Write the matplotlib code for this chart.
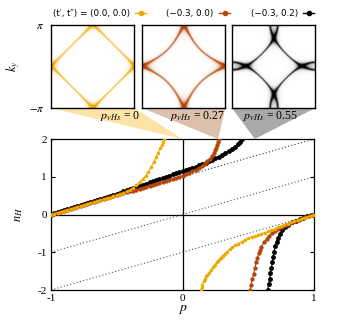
import numpy as np
import matplotlib
matplotlib.use("Agg")
import matplotlib.pyplot as plt
from matplotlib.colors import LinearSegmentedColormap
from matplotlib.patches import Polygon
from matplotlib.lines import Line2D

plt.rcParams['font.family'] = ['Liberation Serif', 'DejaVu Serif']
plt.rcParams['mathtext.fontset'] = 'stix'
plt.rcParams['axes.unicode_minus'] = False

# hopping parameters (t', t''), chemical potential at the vHs, vHs dopings
hoppings = [(0.0, 0.0), (-0.3, 0.0), (-0.3, 0.2)]
mu_vhs = [0.0, -1.2, -1.8]
legend_labels = ["(t\u2032, t\u2033) = (0.0, 0.0)", "(\u22120.3, 0.0)", "(\u22120.3, 0.2)"]
p_vhs = [0.0, 0.27, 0.55]
p_vhs_labels = ["0", "0.27", "0.55"]

# Hall number, upper branches
p_yel_up = [-1.0, -0.975, -0.95, -0.925, -0.9, -0.875, -0.85, -0.825, -0.8, -0.775, -0.75, -0.725,
            -0.7, -0.675, -0.65, -0.625, -0.6, -0.575, -0.55, -0.525, -0.5, -0.475, -0.45, -0.425,
            -0.4, -0.375, -0.35, -0.325, -0.3, -0.28, -0.26, -0.24, -0.22, -0.2, -0.185, -0.17,
            -0.158, -0.147, -0.137]
nH_yel_up = [0.0, 0.025, 0.05, 0.075, 0.1, 0.125, 0.15, 0.175, 0.2, 0.225, 0.25, 0.275,
             0.3, 0.325, 0.35, 0.375, 0.4, 0.425, 0.45, 0.48, 0.51, 0.54, 0.57, 0.61,
             0.66, 0.71, 0.78, 0.86, 0.95, 1.03, 1.13, 1.25, 1.38, 1.53, 1.64, 1.75,
             1.84, 1.92, 2.0]

p_brn_up = [-1.0, -0.975, -0.95, -0.925, -0.9, -0.875, -0.85, -0.825, -0.8, -0.775, -0.75, -0.725,
            -0.7, -0.675, -0.65, -0.625, -0.6, -0.575, -0.55, -0.525, -0.5, -0.475, -0.45, -0.425,
            -0.4, -0.375, -0.35, -0.325, -0.3, -0.275, -0.25, -0.225, -0.2, -0.175, -0.15, -0.125,
            -0.1, -0.075, -0.05, -0.025, 0.0, 0.025, 0.05, 0.075, 0.1, 0.125, 0.15, 0.17,
            0.19, 0.21, 0.225, 0.24, 0.25, 0.258, 0.265, 0.271, 0.276]
nH_brn_up = [0.0, 0.025, 0.05, 0.075, 0.1, 0.13, 0.155, 0.18, 0.205, 0.23, 0.255, 0.28,
             0.31, 0.335, 0.36, 0.385, 0.41, 0.435, 0.46, 0.485, 0.51, 0.535, 0.56, 0.585,
             0.61, 0.635, 0.66, 0.685, 0.71, 0.735, 0.76, 0.785, 0.81, 0.835, 0.86, 0.89,
             0.92, 0.945, 0.975, 1.0, 1.03, 1.065, 1.1, 1.14, 1.18, 1.23, 1.29, 1.35,
             1.41, 1.48, 1.55, 1.63, 1.7, 1.77, 1.84, 1.92, 2.0]

p_blk_up = [-1.0, -0.975, -0.95, -0.925, -0.9, -0.875, -0.85, -0.825, -0.8, -0.775, -0.75, -0.725,
            -0.7, -0.675, -0.65, -0.625, -0.6, -0.575, -0.55, -0.525, -0.5, -0.475, -0.45, -0.425,
            -0.4, -0.375, -0.35, -0.325, -0.3, -0.275, -0.25, -0.225, -0.2, -0.175, -0.15, -0.125,
            -0.1, -0.075, -0.05, -0.025, 0.0, 0.025, 0.05, 0.075, 0.1, 0.125, 0.15, 0.175,
            0.2, 0.225, 0.25, 0.275, 0.3, 0.325, 0.35, 0.375, 0.4, 0.42, 0.44, 0.455]
nH_blk_up = [0.0, 0.03, 0.055, 0.08, 0.11, 0.14, 0.165, 0.19, 0.22, 0.25, 0.275, 0.3,
             0.33, 0.36, 0.385, 0.41, 0.44, 0.47, 0.495, 0.52, 0.55, 0.58, 0.61, 0.64,
             0.67, 0.7, 0.73, 0.76, 0.79, 0.82, 0.85, 0.88, 0.91, 0.94, 0.97, 1.0,
             1.03, 1.06, 1.09, 1.12, 1.15, 1.18, 1.21, 1.24, 1.27, 1.3, 1.34, 1.37,
             1.41, 1.45, 1.49, 1.53, 1.58, 1.63, 1.68, 1.74, 1.8, 1.86, 1.93, 2.0]

# Hall number, lower branches
p_yel_lo = [0.14, 0.145, 0.15, 0.16, 0.17, 0.18, 0.19, 0.2, 0.215, 0.23, 0.245, 0.26, 0.275,
            0.29, 0.305, 0.32, 0.34, 0.36, 0.38, 0.4, 0.425, 0.45, 0.475, 0.5, 0.525, 0.55,
            0.575, 0.6, 0.625, 0.65, 0.675, 0.7, 0.725, 0.75, 0.775, 0.8, 0.825, 0.85,
            0.875, 0.9, 0.925, 0.95, 0.975, 1.0]
nH_yel_lo = [-2.0, -1.92, -1.86, -1.77, -1.7, -1.64, -1.59, -1.54, -1.47, -1.4, -1.33, -1.26, -1.2,
             -1.14, -1.09, -1.04, -0.98, -0.92, -0.87, -0.82, -0.77, -0.72, -0.67, -0.63, -0.6, -0.57,
             -0.54, -0.51, -0.48, -0.45, -0.41, -0.38, -0.34, -0.31, -0.27, -0.24, -0.21, -0.18,
             -0.15, -0.12, -0.09, -0.06, -0.03, 0.0]

p_brn_lo = [0.512, 0.52, 0.53, 0.54, 0.55, 0.56, 0.57, 0.58, 0.59, 0.6, 0.62, 0.64, 0.66,
            0.68, 0.7, 0.73, 0.76, 0.785, 0.81, 0.835, 0.86, 0.885, 0.91, 0.935, 0.96, 0.98, 1.0]
nH_brn_lo = [-2.0, -1.88, -1.72, -1.58, -1.42, -1.27, -1.14, -1.03, -0.94, -0.86, -0.74, -0.64, -0.56,
             -0.5, -0.45, -0.38, -0.32, -0.28, -0.24, -0.2, -0.17, -0.14, -0.1, -0.07, -0.045, -0.025, 0.0]

p_blk_lo = [0.648, 0.655, 0.662, 0.669, 0.676, 0.683, 0.69, 0.697, 0.705, 0.715, 0.725, 0.74,
            0.76, 0.78, 0.8, 0.83, 0.86, 0.89, 0.92, 0.95, 0.98, 1.0]
nH_blk_lo = [-2.0, -1.84, -1.7, -1.56, -1.42, -1.27, -1.12, -0.98, -0.84, -0.72, -0.63, -0.52,
             -0.41, -0.33, -0.27, -0.21, -0.16, -0.12, -0.08, -0.05, -0.02, 0.0]

colors = ['#eca900', '#b4460b', '#000000']
wedge_colors = ['#fde3a7', '#dcc0ab', '#a9a9a9']

fig = plt.figure(figsize=(3.53, 3.29), dpi=100)

# main panel
ax = fig.add_axes([0.1445, 0.1185, 0.745, 0.459])
ax.set_xlim(-1, 1)
ax.set_ylim(-2, 2)
ax.axhline(0, color='k', lw=0.9, zorder=1)
ax.axvline(0, color='k', lw=0.9, zorder=1)
pp = np.array([-1.0, 1.0])
ax.plot(pp, pp + 1, ls=(0, (1, 2)), color='#333333', lw=0.8, zorder=1)
ax.plot(pp, pp, ls=(0, (1, 2)), color='#555555', lw=0.8, zorder=1)
ax.plot(pp, pp - 1, ls=(0, (1, 2)), color='#555555', lw=0.8, zorder=1)

branches = [
    (p_yel_up, nH_yel_up, p_yel_lo, nH_yel_lo, 2.5, 5),
    (p_brn_up, nH_brn_up, p_brn_lo, nH_brn_lo, 3.1, 4),
    (p_blk_up, nH_blk_up, p_blk_lo, nH_blk_lo, 3.5, 3),
]
handles = []
for (pu, nu, pl, nl, ms, z), c in zip(branches, colors):
    ax.plot(pu, nu, '-o', color=c, ms=ms, lw=0.8, mew=0, zorder=z)
    ax.plot(pl, nl, '-o', color=c, ms=ms, lw=0.8, mew=0, zorder=z)
    handles.append(Line2D([], [], color=c, marker='o', ms=3, lw=1))

ax.set_xticks([-1, 0, 1])
ax.set_yticks([-2, -1, 0, 1, 2])
ax.tick_params(direction='in', top=True, right=True, length=3, labelsize=8, pad=3)
for s in ax.spines.values():
    s.set_linewidth(0.9)
ax.set_xlabel(r"$p$", fontsize=10, labelpad=0)
ax.set_ylabel(r"$n_H$", fontsize=9, labelpad=9)

# Fermi surface insets
k = np.linspace(-np.pi, np.pi, 401)
kx, ky = np.meshgrid(k, k)
eta = 0.07
in_w = 0.236
in_lefts = [0.1445, 0.4023, 0.6572]
label_x = [0.83, 0.67, 0.46]
for i, ((tp, tpp), c) in enumerate(zip(hoppings, colors)):
    axi = fig.add_axes([in_lefts[i], 0.6717, in_w, 0.2523])
    eps = (-2 * (np.cos(kx) + np.cos(ky)) - 4 * tp * np.cos(kx) * np.cos(ky)
           - 2 * tpp * (np.cos(2 * kx) + np.cos(2 * ky)) - mu_vhs[i])
    A = eta ** 2 / (eps ** 2 + eta ** 2)
    cmap = LinearSegmentedColormap.from_list('c%d' % i, ['#ffffff', c])
    axi.imshow(A, extent=[-np.pi, np.pi, -np.pi, np.pi], origin='lower', cmap=cmap,
               vmin=0, vmax=0.9, interpolation='bilinear')
    axi.set_xticks([])
    if i == 0:
        axi.set_yticks([-np.pi, np.pi])
        axi.set_yticklabels([r"$-\pi$", r"$\pi$"], fontsize=8)
        axi.tick_params(axis='y', length=0, pad=5)
        axi.set_ylabel(r"$k_y$", fontsize=9, labelpad=5)
    else:
        axi.set_yticks([])
    for s in axi.spines.values():
        s.set_linewidth(1.0)
    axi.text(label_x[i], -0.1, r"$p_{vHs}$ = " + p_vhs_labels[i], transform=axi.transAxes,
             ha='center', va='center', fontsize=8.5)

    # wedge from inset bottom edge to p_vHs on the top of the main panel
    to_fig = fig.transFigure.inverted()
    x0, y0 = to_fig.transform(axi.transAxes.transform((0, 0)))
    x1, _ = to_fig.transform(axi.transAxes.transform((1, 0)))
    tx, ty = to_fig.transform(ax.transData.transform((p_vhs[i], 2)))
    fig.add_artist(Polygon([[x0, y0], [x1, y0], [tx, ty]], closed=True, facecolor=wedge_colors[i],
                           edgecolor='none', transform=fig.transFigure, zorder=-1))

fig.legend(handles, legend_labels, loc='center', bbox_to_anchor=(0.52, 0.96), ncol=3,
           frameon=False, markerfirst=False, handlelength=1.3, handletextpad=0.6,
           columnspacing=2.3, prop={'family': 'DejaVu Sans', 'size': 6.3})

fig.savefig("out.png", dpi=100)
